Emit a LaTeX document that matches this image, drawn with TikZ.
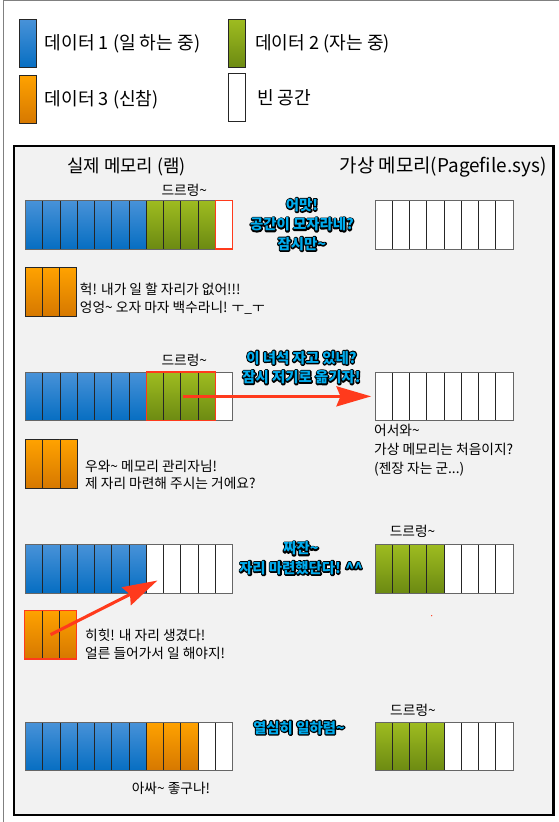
\documentclass[tikz,border=0pt]{standalone}
\usepackage{fontspec}
\setmainfont{Noto Sans CJK KR}
\newfontfamily\rimfont{Noto Sans CJK KR Bold}[FakeBold=20]
\usetikzlibrary{arrows.meta,matrix,positioning}

\definecolor{bluetop}{RGB}{72,146,216}
\definecolor{bluebot}{RGB}{6,110,194}
\definecolor{greentop}{RGB}{158,188,32}
\definecolor{greenbot}{RGB}{108,138,18}
\definecolor{orangetop}{RGB}{255,162,0}
\definecolor{orangebot}{RGB}{214,120,0}
\definecolor{panel}{RGB}{242,242,242}
\definecolor{alarm}{RGB}{255,58,28}
\definecolor{shoutblue}{RGB}{0,172,238}

\newcommand\wave{\textasciitilde}
% blue text over a black rim
\newcommand\shouttext[3]{%
  \begin{scope}[line join=round, line cap=round]
  \node[shout, rim] at (#2) {#3};
  \end{scope}
  \node[shout] (#1) at (#2) {#3};}

\tikzset{
  cell/.style={draw=black!85, line width=0.6pt, minimum width=12.94pt,
    minimum height=36.4pt, inner sep=0pt, outer sep=0pt},
  blu/.style={cell, top color=bluetop, bottom color=bluebot},
  grn/.style={cell, top color=greentop, bottom color=greenbot},
  org/.style={cell, top color=orangetop, bottom color=orangebot},
  emp/.style={cell, fill=white},
  memrow/.style={matrix of nodes, nodes in empty cells, column sep=-0.6pt,
    inner sep=0pt, outer sep=0pt, matrix anchor=north west},
  rowframe/.style={draw=black!60, line width=0.6pt},
  redframe/.style={draw=alarm, line width=1pt},
  redarrow/.style={draw=alarm, line width=2.3pt,
    -{Stealth[length=26pt,width=15pt,inset=3pt]}},
  legend/.style={anchor=west, inner sep=0pt, font=\fontsize{13.6pt}{16pt}\selectfont},
  heading/.style={inner sep=0pt, font=\fontsize{13.4pt}{16pt}\selectfont},
  talk/.style={anchor=west, inner sep=0pt, align=left,
    font=\fontsize{10.3pt}{13.5pt}\selectfont},
  snore/.style={inner sep=0pt, font=\fontsize{10.3pt}{12pt}\selectfont},
  shout/.style={inner sep=0pt, align=center, text=shoutblue,
    font=\bfseries\fontsize{10.8pt}{14.6pt}\selectfont},
  rim/.style={text=black, font=\rimfont\fontsize{10.8pt}{14.6pt}\selectfont},
}

\begin{document}
\begin{tikzpicture}[x=0.75pt, y=-0.75pt]
\useasboundingbox (0,0) rectangle (559,822);
\draw[black!50, line width=0.75pt] (3.6,822) -- (3.6,0.7) -- (559,0.7);

% legend
\node[blu, anchor=north west] (key1) at (19.6,19.3) {};
\node[legend, right=5.8pt of key1] (key1-text) {데이터 1 (일 하는 중)};
\node[grn, anchor=north west] (key2) at (228.3,19.3) {};
\node[legend, right=7.1pt of key2] (key2-text) {데이터 2 (자는 중)};
\node[org, anchor=north west] (key3) at (19.6,75) {};
\node[legend, right=5.8pt of key3] (key3-text) {데이터 3 (신참)};
\node[emp, anchor=north west] (key4) at (228.3,73.3) {};
\node[legend, right=8.5pt of key4] (key4-text) {빈 공간};

% panel
\draw[line width=2pt, fill=panel] (14,146) rectangle (553.3,815);
\node[heading] (ramtitle) at (126.6,166.7) {실제 메모리 (램)};
\node[heading, font=\fontsize{14.2pt}{16pt}\selectfont] (vmtitle) at (443,166.7)
  {가상 메모리(Pagefile.sys)};

% step 1
\matrix (ram1) [memrow] at (25,200) {
  |[blu]| & |[blu]| & |[blu]| & |[blu]| & |[blu]| & |[blu]| & |[blu]| &
  |[grn]| & |[grn]| & |[grn]| & |[grn]| & |[emp]| \\
};
\matrix (vm1) [memrow] at (374.6,200) {
  |[emp]| & |[emp]| & |[emp]| & |[emp]| & |[emp]| & |[emp]| & |[emp]| & |[emp]| \\
};
\draw[rowframe] (ram1-1-1.north west) rectangle (ram1-1-12.south east);
\draw[rowframe] (vm1-1-1.north west) rectangle (vm1-1-8.south east);
\draw[redframe] (ram1-1-12.north west) rectangle (ram1-1-12.south east);
\node[snore] (snore1) at (184.3,190) {드르렁\wave};
\shouttext{oops}{302,224.5}{어맛!\\공간이 모자라네?\\잠시만\wave}
\matrix (new1) [memrow] at (24.7,267) {|[org]| & |[org]| & |[org]| \\};
\node[talk] (moan1) at (79.7,299)
  {헉! 내가 일 할 자리가 없어!!!\\엉엉\wave{} 오자 마자 백수라니! ㅜ\_ㅜ};

% step 2
\matrix (ram2) [memrow] at (25,371.7) {
  |[blu]| & |[blu]| & |[blu]| & |[blu]| & |[blu]| & |[blu]| & |[blu]| &
  |[grn]| & |[grn]| & |[grn]| & |[grn]| & |[emp]| \\
};
\matrix (vm2) [memrow] at (374.6,371.7) {
  |[emp]| & |[emp]| & |[emp]| & |[emp]| & |[emp]| & |[emp]| & |[emp]| & |[emp]| \\
};
\draw[rowframe] (ram2-1-1.north west) rectangle (ram2-1-12.south east);
\draw[rowframe] (vm2-1-1.north west) rectangle (vm2-1-8.south east);
\draw[redframe] (ram2-1-8.north west) rectangle (ram2-1-11.south east);
\node[snore] (snore2) at (184.3,360) {드르렁\wave};
\shouttext{sleeper}{301.5,367.5}{이 녀석 자고 있네?\\잠시 저기로 옮기자!}
\draw[redarrow] ([xshift=1.8pt]ram2-1-10.west) -- ([xshift=-2.6pt]vm2.west);
\matrix (new2) [memrow] at (25,439) {|[org]| & |[org]| & |[org]| \\};
\node[talk, font=\fontsize{10.3pt}{12.6pt}\selectfont] (moan2) at (84.9,475)
  {우와\wave{} 메모리 관리자님!\\제 자리 마련해 주시는 거에요?};
\node[talk, font=\fontsize{10.3pt}{14.5pt}\selectfont] (welcome) at (373.9,450)
  {어서와\wave\\가상 메모리는 처음이지?\\(젠장 자는 군...)};

% step 3
\matrix (ram3) [memrow] at (25,544) {
  |[blu]| & |[blu]| & |[blu]| & |[blu]| & |[blu]| & |[blu]| & |[blu]| &
  |[emp]| & |[emp]| & |[emp]| & |[emp]| & |[emp]| \\
};
\matrix (vm3) [memrow] at (374.6,544) {
  |[grn]| & |[grn]| & |[grn]| & |[grn]| & |[emp]| & |[emp]| & |[emp]| & |[emp]| \\
};
\draw[rowframe] (ram3-1-1.north west) rectangle (ram3-1-12.south east);
\draw[rowframe] (vm3-1-1.north west) rectangle (vm3-1-8.south east);
\node[snore] (snore3) at (412.6,531.7) {드르렁\wave};
\shouttext{tada}{301,558.3}{짜잔\wave\\자리 마련했단다! \textasciicircum\textasciicircum}
\matrix (new3) [memrow] at (24.3,610) {|[org]| & |[org]| & |[org]| \\};
\draw[redframe] (new3-1-1.north west) rectangle (new3-1-3.south east);
\draw[redarrow] (new3-1-2.center) -- ([xshift=8.4pt,yshift=9.3pt]ram3-1-8.south west);
\node[talk, font=\fontsize{10.3pt}{13.7pt}\selectfont] (moan3) at (84.9,644.2)
  {히힛! 내 자리 생겼다!\\얼른 들어가서 일 해야지!};
\fill[alarm] (431.7,615.7) circle (0.7);

% step 4
\matrix (ram4) [memrow] at (25,721.7) {
  |[blu]| & |[blu]| & |[blu]| & |[blu]| & |[blu]| & |[blu]| & |[blu]| &
  |[org]| & |[org]| & |[org]| & |[emp]| & |[emp]| \\
};
\matrix (vm4) [memrow] at (374.6,721.7) {
  |[grn]| & |[grn]| & |[grn]| & |[grn]| & |[emp]| & |[emp]| & |[emp]| & |[emp]| \\
};
\draw[rowframe] (ram4-1-1.north west) rectangle (ram4-1-12.south east);
\draw[rowframe] (vm4-1-1.north west) rectangle (vm4-1-8.south east);
\node[snore] (snore4) at (413,710.7) {드르렁\wave};
\shouttext{work}{299,727.7}{열심히 일하렴\wave}
\node[snore] (cheer) at (171,788.3) {아싸\wave{} 좋구나!};
\end{tikzpicture}
\end{document}
